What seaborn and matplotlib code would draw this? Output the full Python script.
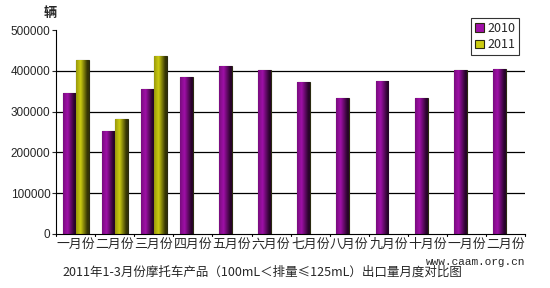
import matplotlib
matplotlib.use("Agg")
import matplotlib.pyplot as plt
import matplotlib.colors as mcolors
import seaborn as sns
import pandas as pd
import numpy as np

months = ["一月份", "二月份", "三月份", "四月份", "五月份", "六月份",
          "七月份", "八月份", "九月份", "十月份", "十一月份", "十二月份"]
tick_labels = ["一月份", "二月份", "三月份", "四月份", "五月份", "六月份",
               "七月份", "八月份", "九月份", "十月份", "一月份", "二月份"]
v2010 = [345000, 252000, 356000, 384000, 412000, 403000,
         372000, 334000, 376000, 334000, 403000, 405000]
v2011 = [426000, 282000, 436000, np.nan, np.nan, np.nan,
         np.nan, np.nan, np.nan, np.nan, np.nan, np.nan]
series = ["2010", "2011"]

df = pd.DataFrame({
    "month": months * 2,
    "year": [series[0]] * 12 + [series[1]] * 12,
    "value": v2010 + v2011,
})

sns.set_style("white")
plt.rcParams["font.family"] = ["Noto Sans CJK SC", "DejaVu Sans"]

fig = plt.figure(figsize=(5.5, 2.88), dpi=100)
ax = fig.add_axes([0.102, 0.1875, 0.853, 0.708])

palette = {"2010": "#A010A8", "2011": "#CCCC10"}
sns.barplot(data=df, x="month", y="value", hue="year", order=months,
            hue_order=series, palette=palette, width=0.66, ax=ax,
            edgecolor="#2a2a10", linewidth=0.8, saturation=1, legend=True)

# cylinder-like shading over each bar
for patch in list(ax.patches):
    h = patch.get_height()
    if not np.isfinite(h) or h <= 0:
        continue
    base = np.array(mcolors.to_rgb(patch.get_facecolor()))
    t = np.linspace(0, 1, 64)
    shade = np.where(t < 0.35, 0.75 + 0.7 * t, 1.0 - 1.4 * (t - 0.35))
    shade = np.clip(shade, 0.25, 1.05)
    col = np.clip(base[None, :] * shade[:, None] + np.where(shade[:, None] > 1, 0.15, 0), 0, 1)
    img = ax.imshow(col[None, :, :], aspect="auto",
                    extent=[patch.get_x(), patch.get_x() + patch.get_width(), 0, h],
                    zorder=patch.get_zorder() + 0.1, interpolation="bilinear")
    img.set_clip_path(patch)

ax.set_ylim(0, 500000)
ax.set_yticks(range(0, 500001, 100000))
ax.set_yticklabels([str(v) for v in range(0, 500001, 100000)], fontsize=8.5,
                   family=["Liberation Sans", "DejaVu Sans"])
for y in range(100000, 500000, 100000):
    ax.axhline(y, color="black", linewidth=0.9, zorder=0)
ax.set_xlim(-0.5, 11.5)
ax.set_xticks(np.arange(12))
ax.set_xticklabels(tick_labels, fontsize=9.3)
ax.tick_params(axis="x", length=0, pad=3)
ax.tick_params(axis="y", length=3, direction="out", left=True, pad=1)
for xb in np.arange(-0.5, 12, 1):
    ax.plot([xb, xb], [0, -6000], color="black", lw=0.8, clip_on=False)
ax.set_xlabel("")
ax.set_ylabel("")
for s in ["top", "right"]:
    ax.spines[s].set_visible(False)
for s in ["left", "bottom"]:
    ax.spines[s].set_color("black")
    ax.spines[s].set_linewidth(0.8)

leg = ax.legend(loc="upper right", bbox_to_anchor=(1.0, 1.09), fontsize=9,
                frameon=True, fancybox=False, handlelength=0.7,
                handleheight=0.7, handletextpad=0.3, borderpad=0.3,
                labelspacing=0.3)
leg.get_frame().set_edgecolor("black")
leg.get_frame().set_linewidth(0.8)

fig.text(0.092, 0.955, "辆", fontsize=9.5, fontweight="bold", ha="center", va="center")
fig.text(0.478, 0.055, "2011年1-3月份摩托车产品（100mL＜排量≤125mL）出口量月度对比图",
         fontsize=9, ha="center", va="center")
fig.text(0.955, 0.09, "www.caam.org.cn", fontsize=8, ha="right", va="center",
         family=["Liberation Mono", "DejaVu Sans Mono"])

fig.savefig("out.png", dpi=100)
